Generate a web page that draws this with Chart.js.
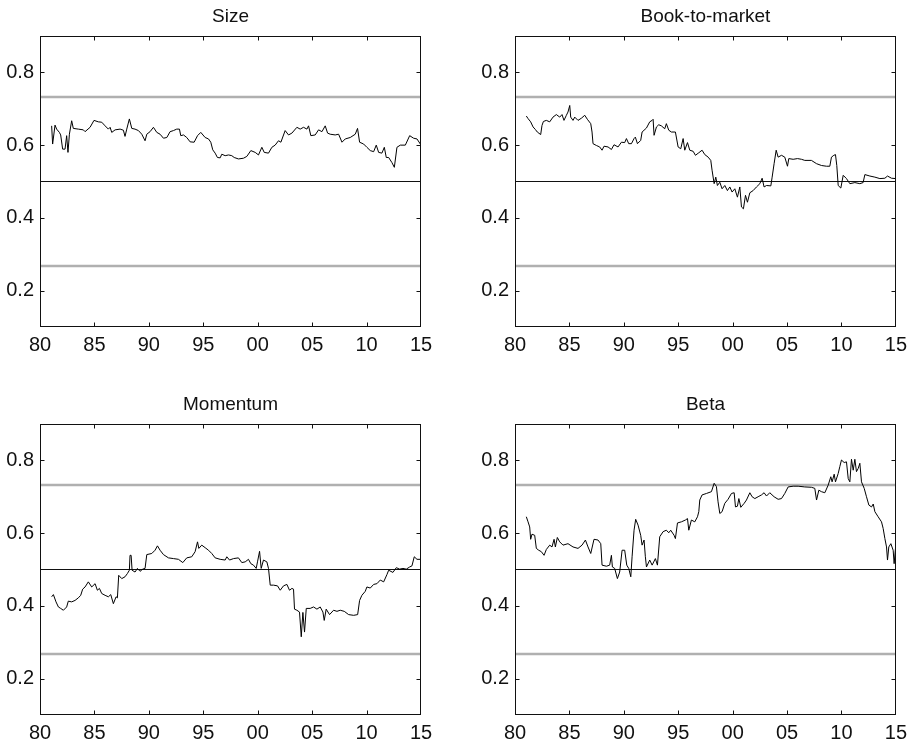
<!DOCTYPE html>
<html><head><meta charset="utf-8">
<script src="https://cdn.jsdelivr.net/npm/chart.js@4/dist/chart.umd.min.js"></script>
<style>
html,body{margin:0;padding:0;background:#fff;overflow:hidden;width:913px;height:744px;}
.p{position:absolute;}
canvas{display:block;}
</style></head><body>
<div class="p" style="left:0px;top:0px"><canvas id="c0" width="456" height="356"></canvas></div>
<div class="p" style="left:475px;top:0px"><canvas id="c1" width="438" height="356"></canvas></div>
<div class="p" style="left:0px;top:388px"><canvas id="c2" width="456" height="356"></canvas></div>
<div class="p" style="left:475px;top:388px"><canvas id="c3" width="438" height="356"></canvas></div>
<script>
// ---- data ----
const panelTitles = ['Size', 'Book-to-market', 'Momentum', 'Beta'];
const xTickValues = [1980, 1985, 1990, 1995, 2000, 2005, 2010, 2015];
const xTickLabels = ['80', '85', '90', '95', '00', '05', '10', '15'];
const yTickValues = [0.2, 0.4, 0.6, 0.8];
const yTickLabels = ['0.2', '0.4', '0.6', '0.8'];
const midLine = 0.5;
const upperBand = 0.732;
const lowerBand = 0.268;

const sizeYears = [1981.07,1981.16,1981.38,1981.53,1981.78,1981.9,1982.08,1982.3,1982.45,1982.57,1982.7,1982.91,1983.06,1983.52,1983.98,1984.14,1984.6,1984.96,1985.36,1985.67,1985.98,1986.28,1986.44,1986.59,1986.9,1987.36,1987.66,1987.81,1987.97,1988.21,1988.43,1988.73,1989.04,1989.35,1989.65,1989.81,1990.11,1990.42,1990.73,1991.03,1991.34,1991.65,1991.95,1992.26,1992.56,1992.81,1992.93,1993.18,1993.48,1993.79,1994.16,1994.47,1994.77,1995.17,1995.48,1995.69,1995.87,1996.09,1996.3,1996.55,1996.7,1997.01,1997.32,1997.62,1997.84,1998.23,1998.69,1999.0,1999.37,1999.77,2000.07,2000.38,2000.6,2000.99,2001.3,2001.6,2001.91,2002.13,2002.52,2002.83,2003.14,2003.6,2003.9,2004.21,2004.52,2004.67,2004.88,2005.28,2005.59,2005.9,2006.2,2006.42,2006.66,2007.12,2007.43,2007.74,2008.04,2008.5,2008.96,2009.17,2009.36,2009.73,2010.03,2010.34,2010.65,2010.89,2011.11,2011.41,2011.63,2011.81,2012.03,2012.33,2012.55,2012.79,2013.1,2013.56,2013.96,2014.32,2014.63,2014.94];
const sizeValues = [0.653,0.603,0.655,0.644,0.635,0.628,0.589,0.589,0.626,0.580,0.630,0.667,0.646,0.644,0.642,0.637,0.649,0.668,0.664,0.663,0.653,0.644,0.649,0.635,0.642,0.644,0.641,0.624,0.644,0.672,0.646,0.644,0.640,0.630,0.612,0.630,0.637,0.649,0.635,0.630,0.619,0.621,0.637,0.640,0.644,0.644,0.626,0.628,0.621,0.609,0.608,0.626,0.635,0.621,0.617,0.608,0.587,0.578,0.566,0.565,0.575,0.571,0.573,0.571,0.566,0.562,0.564,0.569,0.585,0.580,0.573,0.594,0.580,0.578,0.594,0.600,0.612,0.608,0.640,0.628,0.633,0.649,0.644,0.649,0.644,0.653,0.626,0.628,0.642,0.637,0.653,0.633,0.630,0.628,0.630,0.608,0.617,0.621,0.630,0.646,0.608,0.603,0.594,0.585,0.582,0.600,0.580,0.578,0.594,0.566,0.566,0.552,0.539,0.594,0.600,0.600,0.626,0.619,0.617,0.603];

const bmYears = [1981.04,1981.2,1981.44,1981.66,1981.87,1982.05,1982.36,1982.48,1982.61,1982.88,1983.19,1983.49,1983.8,1984.11,1984.32,1984.5,1984.72,1984.87,1985.03,1985.12,1985.33,1985.49,1985.79,1986.1,1986.41,1986.65,1986.96,1987.08,1987.17,1987.48,1987.78,1988.0,1988.18,1988.55,1988.86,1989.1,1989.47,1989.78,1990.08,1990.24,1990.45,1990.7,1990.94,1991.06,1991.25,1991.55,1991.68,1992.08,1992.38,1992.6,1992.69,1992.78,1993.0,1993.21,1993.45,1993.76,1993.91,1994.13,1994.37,1994.74,1994.99,1995.23,1995.45,1995.6,1995.85,1996.06,1996.37,1996.58,1996.89,1997.19,1997.44,1997.75,1997.99,1998.11,1998.3,1998.45,1998.6,1998.82,1999.03,1999.28,1999.52,1999.74,1999.95,2000.2,2000.44,2000.66,2000.81,2000.99,2001.18,2001.36,2001.58,2001.88,2002.19,2002.5,2002.71,2002.89,2003.11,2003.51,2003.63,2003.81,2004.0,2004.18,2004.49,2004.79,2005.04,2005.16,2005.56,2005.96,2006.33,2006.63,2007.24,2007.71,2008.16,2008.62,2008.93,2009.08,2009.3,2009.45,2009.57,2009.7,2009.94,2010.16,2010.46,2010.77,2011.23,2011.69,2011.99,2012.15,2012.61,2013.07,2013.53,2013.99,2014.23,2014.6,2015.0];
const bmValues = [0.680,0.673,0.664,0.650,0.643,0.636,0.629,0.654,0.665,0.668,0.664,0.677,0.684,0.677,0.684,0.668,0.682,0.691,0.709,0.677,0.668,0.677,0.668,0.674,0.682,0.671,0.659,0.636,0.604,0.599,0.595,0.586,0.597,0.595,0.588,0.601,0.595,0.608,0.607,0.618,0.604,0.604,0.618,0.622,0.604,0.613,0.636,0.647,0.664,0.668,0.671,0.627,0.650,0.656,0.653,0.645,0.659,0.641,0.636,0.636,0.595,0.590,0.618,0.586,0.607,0.586,0.583,0.572,0.579,0.586,0.574,0.567,0.558,0.531,0.494,0.512,0.489,0.498,0.480,0.489,0.475,0.485,0.471,0.480,0.457,0.485,0.430,0.425,0.462,0.443,0.469,0.475,0.485,0.494,0.509,0.485,0.489,0.488,0.512,0.549,0.586,0.567,0.572,0.567,0.542,0.563,0.561,0.563,0.561,0.558,0.558,0.549,0.544,0.542,0.542,0.567,0.572,0.574,0.544,0.489,0.482,0.517,0.508,0.494,0.497,0.494,0.497,0.519,0.515,0.512,0.508,0.509,0.515,0.509,0.508];

const momYears = [1981.07,1981.23,1981.47,1981.69,1981.9,1982.15,1982.45,1982.6,1982.91,1983.22,1983.52,1983.74,1983.92,1984.14,1984.44,1984.75,1985.06,1985.27,1985.46,1985.67,1985.98,1986.28,1986.5,1986.74,1986.99,1987.11,1987.23,1987.51,1987.81,1988.03,1988.21,1988.27,1988.37,1988.46,1988.73,1988.95,1989.19,1989.44,1989.65,1989.81,1990.27,1990.57,1990.79,1991.03,1991.34,1991.8,1992.26,1992.72,1993.12,1993.48,1993.94,1994.25,1994.47,1994.59,1994.86,1995.17,1995.48,1995.78,1996.09,1996.55,1997.01,1997.16,1997.41,1997.78,1998.23,1998.54,1998.85,1999.15,1999.37,1999.61,1999.86,1999.98,2000.17,2000.32,2000.53,2000.84,2000.99,2001.15,2001.45,2001.82,2002.07,2002.37,2002.68,2002.92,2003.14,2003.29,2003.38,2003.6,2003.84,2004.0,2004.15,2004.3,2004.46,2004.82,2005.13,2005.44,2005.74,2005.99,2006.11,2006.29,2006.6,2006.97,2007.28,2007.58,2007.95,2008.35,2008.81,2009.18,2009.36,2009.57,2009.88,2010.03,2010.34,2010.65,2010.95,2011.26,2011.57,2011.87,2012.03,2012.42,2012.73,2013.04,2013.34,2013.65,2013.96,2014.17,2014.38,2014.63,2015.0];
const momValues = [0.425,0.431,0.411,0.397,0.393,0.388,0.397,0.413,0.411,0.415,0.422,0.429,0.446,0.452,0.466,0.452,0.461,0.443,0.448,0.434,0.429,0.425,0.431,0.406,0.425,0.422,0.484,0.475,0.480,0.489,0.498,0.539,0.539,0.498,0.493,0.503,0.495,0.501,0.503,0.541,0.544,0.553,0.565,0.553,0.541,0.532,0.530,0.528,0.519,0.532,0.535,0.549,0.576,0.558,0.567,0.560,0.553,0.544,0.532,0.528,0.526,0.535,0.526,0.530,0.532,0.519,0.521,0.528,0.516,0.512,0.503,0.521,0.550,0.503,0.526,0.521,0.503,0.457,0.457,0.455,0.443,0.455,0.459,0.443,0.448,0.446,0.391,0.388,0.383,0.315,0.382,0.328,0.393,0.393,0.397,0.391,0.397,0.383,0.360,0.391,0.376,0.388,0.385,0.388,0.385,0.376,0.374,0.376,0.415,0.429,0.440,0.452,0.449,0.459,0.461,0.471,0.466,0.486,0.498,0.492,0.505,0.501,0.503,0.501,0.507,0.510,0.535,0.528,0.528];

const betaYears = [1981.04,1981.2,1981.35,1981.44,1981.56,1981.81,1981.96,1982.18,1982.42,1982.67,1982.88,1983.19,1983.4,1983.59,1983.71,1983.89,1984.11,1984.41,1984.87,1985.33,1985.79,1986.16,1986.47,1986.71,1986.96,1987.26,1987.63,1987.88,1988.0,1988.4,1988.7,1988.86,1988.95,1989.16,1989.41,1989.62,1989.84,1990.08,1990.27,1990.45,1990.64,1990.76,1990.94,1991.09,1991.31,1991.55,1991.68,1991.86,1991.98,1992.08,1992.38,1992.6,1992.9,1993.09,1993.3,1993.61,1993.91,1994.13,1994.31,1994.62,1994.74,1994.93,1995.29,1995.66,1995.85,1995.97,1996.21,1996.52,1996.77,1996.89,1996.98,1997.19,1997.59,1998.05,1998.3,1998.51,1998.66,1998.82,1999.03,1999.28,1999.58,1999.89,2000.14,2000.26,2000.44,2000.57,2000.75,2001.06,2001.27,2001.58,2001.79,2002.04,2002.34,2002.65,2002.89,2003.11,2003.41,2003.81,2004.18,2004.49,2004.79,2005.1,2005.56,2006.02,2006.63,2007.25,2007.55,2007.71,2007.92,2008.16,2008.47,2008.78,2009.02,2009.14,2009.33,2009.45,2009.7,2009.85,2010.0,2010.25,2010.46,2010.62,2010.77,2010.92,2011.08,2011.23,2011.38,2011.54,2011.69,2011.84,2012.09,2012.3,2012.52,2012.76,2012.92,2013.07,2013.37,2013.68,2013.83,2013.99,2014.14,2014.23,2014.35,2014.54,2014.75,2014.84,2014.99];
const betaValues = [0.645,0.631,0.617,0.583,0.597,0.594,0.558,0.553,0.549,0.539,0.555,0.567,0.562,0.583,0.562,0.588,0.576,0.567,0.571,0.562,0.558,0.567,0.581,0.562,0.544,0.583,0.581,0.571,0.512,0.509,0.512,0.539,0.507,0.503,0.475,0.493,0.553,0.553,0.512,0.503,0.480,0.535,0.608,0.638,0.622,0.594,0.567,0.581,0.535,0.507,0.526,0.512,0.530,0.512,0.590,0.604,0.608,0.601,0.608,0.594,0.585,0.628,0.631,0.636,0.640,0.608,0.636,0.631,0.645,0.659,0.691,0.705,0.709,0.714,0.737,0.728,0.686,0.654,0.659,0.682,0.693,0.709,0.711,0.672,0.674,0.695,0.671,0.682,0.691,0.711,0.700,0.695,0.700,0.705,0.711,0.702,0.711,0.700,0.693,0.695,0.709,0.727,0.729,0.729,0.727,0.726,0.723,0.691,0.718,0.714,0.711,0.732,0.755,0.741,0.762,0.741,0.764,0.783,0.801,0.794,0.796,0.750,0.741,0.803,0.773,0.803,0.769,0.778,0.792,0.741,0.723,0.700,0.677,0.672,0.680,0.659,0.645,0.631,0.613,0.585,0.562,0.526,0.562,0.571,0.553,0.516,0.567];

// ---- drawing ----
const FONT = '"Liberation Sans", Arial, Helvetica, sans-serif';

const framePlugin = {
  id: 'frame',
  afterDraw(chart, args, opts) {
    const ctx = chart.ctx, a = chart.chartArea;
    const xs = chart.scales.x, ys = chart.scales.y;
    ctx.save();
    ctx.strokeStyle = '#111';
    ctx.lineWidth = 1;
    const L = Math.round(a.left) + 0.5, T = Math.round(a.top) + 0.5;
    const R = Math.round(a.right) - 0.5, B = Math.round(a.bottom) - 0.5;
    ctx.strokeRect(L, T, R - L, B - T);
    const tl = 4;
    ctx.beginPath();
    xTickValues.forEach(v => {
      const px = Math.round(xs.getPixelForValue(v)) + 0.5;
      if (px <= L + 1 || px >= R - 1) return;
      ctx.moveTo(px, B); ctx.lineTo(px, B - tl);
      ctx.moveTo(px, T); ctx.lineTo(px, T + tl);
    });
    yTickValues.forEach(v => {
      const py = Math.round(ys.getPixelForValue(v)) + 0.5;
      ctx.moveTo(L, py); ctx.lineTo(L + tl, py);
      ctx.moveTo(R, py); ctx.lineTo(R - tl, py);
    });
    ctx.stroke();
    ctx.fillStyle = '#111';
    ctx.font = '19px ' + FONT;
    ctx.textAlign = 'center';
    ctx.textBaseline = 'alphabetic';
    ctx.fillText(opts.title, (a.left + a.right) / 2, a.top - 14);
    ctx.restore();
  }
};

function makePanel(id, title, years, values, rightPad) {
  const series = years.map((x, i) => ({ x: x, y: values[i] }));
  const hline = v => [{ x: 1980, y: v }, { x: 2015, y: v }];
  new Chart(document.getElementById(id), {
    type: 'line',
    data: {
      datasets: [
        { data: series, borderColor: '#000', borderWidth: 1, pointRadius: 0, tension: 0 },
        { data: hline(midLine), borderColor: '#111', borderWidth: 1, pointRadius: 0 },
        { data: hline(upperBand), borderColor: '#b0b0b0', borderWidth: 2.5, pointRadius: 0 },
        { data: hline(lowerBand), borderColor: '#b0b0b0', borderWidth: 2.5, pointRadius: 0 }
      ]
    },
    options: {
      responsive: false,
      animation: false,
      devicePixelRatio: 1,
      layout: { padding: { top: 36, right: rightPad, left: 0, bottom: 0 } },
      plugins: { legend: { display: false }, tooltip: { enabled: false }, title: { display: false }, frame: { title: title } },
      scales: {
        x: {
          type: 'linear', min: 1980, max: 2015,
          afterBuildTicks: s => { s.ticks = xTickValues.map(v => ({ value: v })); },
          afterFit: s => { s.height = 29; },
          grid: { display: false, drawTicks: false },
          border: { display: false },
          ticks: { padding: 6, color: '#111', font: { family: FONT, size: 20 }, maxRotation: 0, autoSkip: false,
                   callback: (v, i) => xTickLabels[i] }
        },
        y: {
          type: 'linear', min: 0.1, max: 0.9,
          afterBuildTicks: s => { s.ticks = yTickValues.map(v => ({ value: v })); },
          afterFit: s => { s.width = 40; },
          grid: { display: false, drawTicks: false },
          border: { display: false },
          ticks: { padding: 6, color: '#111', font: { family: FONT, size: 20 },
                   callback: (v, i) => yTickLabels[i] }
        }
      }
    },
    plugins: [framePlugin]
  });
}

makePanel('c0', panelTitles[0], sizeYears, sizeValues, 35);
makePanel('c1', panelTitles[1], bmYears, bmValues, 17);
makePanel('c2', panelTitles[2], momYears, momValues, 35);
makePanel('c3', panelTitles[3], betaYears, betaValues, 17);
</script>
</body></html>
